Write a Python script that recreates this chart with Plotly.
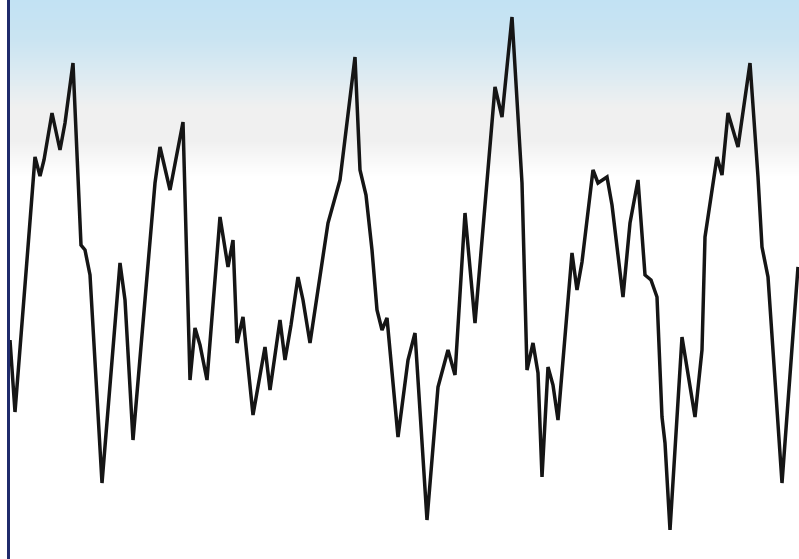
import plotly.graph_objects as go

# Series: time index (x) and value (y)
time_x = [10, 15, 28, 35, 40, 44, 52, 60, 65, 73, 81, 85, 90, 102, 120, 125, 133,
          155, 160, 170, 183, 190, 195, 200, 207, 220, 228, 233, 237, 243, 253,
          265, 270, 280, 285, 291, 298, 303, 310, 328, 340, 355, 360, 366, 372,
          377, 382, 387, 398, 408, 415, 427, 438, 448, 455, 465, 475, 485, 495,
          502, 512, 522, 527, 533, 538, 542, 548, 553, 558, 572, 577, 582, 593,
          598, 607, 612, 623, 630, 638, 645, 651, 657, 662, 665, 670, 682, 687,
          695, 702, 705, 717, 722, 728, 738, 750, 758, 762, 768, 782, 798]
values_y = [219, 147, 312, 402, 383, 399, 446, 409, 436, 496, 314, 309, 284, 76,
            296, 259, 119, 376, 412, 369, 437, 179, 231, 214, 179, 342, 292, 319,
            216, 242, 144, 212, 169, 239, 199, 234, 282, 259, 216, 336, 379, 502,
            389, 364, 309, 249, 229, 241, 122, 199, 226, 39, 172, 209, 184, 346,
            236, 359, 472, 442, 542, 376, 189, 216, 186, 82, 192, 174, 139, 306,
            269, 297, 389, 376, 382, 354, 262, 336, 379, 284, 279, 262, 142, 116,
            29, 222, 189, 142, 209, 322, 402, 384, 446, 412, 496, 382, 312, 282,
            76, 292]

W, H = 799, 559

fig = go.Figure()
fig.add_trace(go.Scatter(
    x=time_x, y=values_y, mode="lines",
    line=dict(color="#151515", width=3.5),
    hoverinfo="skip", showlegend=False,
))

# Background gradient: light blue at top fading to grey then white
stops = [(0, (194, 226, 243)), (40, (202, 228, 242)), (70, (218, 234, 242)),
         (95, (232, 238, 241)), (108, (240, 240, 240)), (140, (240, 240, 240)),
         (160, (248, 248, 248)), (178, (255, 255, 255))]

def col_at(py):
    for (a, ca), (b, cb) in zip(stops[:-1], stops[1:]):
        if a <= py <= b:
            t = (py - a) / (b - a)
            return "rgb(%d,%d,%d)" % tuple(round(ca[i] + (cb[i] - ca[i]) * t) for i in range(3))
    return "rgb(255,255,255)"

shapes = []
step = 2
for py in range(0, 180, step):
    shapes.append(dict(
        type="rect", xref="paper", yref="paper", layer="below",
        x0=0, x1=1, y0=1 - (py + step) / H, y1=1 - py / H,
        fillcolor=col_at(py + step / 2), line=dict(width=0),
    ))

fig.update_layout(
    width=W, height=H,
    margin=dict(l=10, r=0, t=0, b=0),
    paper_bgcolor="white", plot_bgcolor="white",
    shapes=shapes,
    hovermode=False,
    xaxis=dict(range=[10, 799], visible=True, showticklabels=False, ticks="",
               showgrid=False, zeroline=False, showline=False, fixedrange=True),
    yaxis=dict(range=[0, 559], showticklabels=False, ticks="", showgrid=False,
               zeroline=False, showline=True, linecolor="#1f2a6b", linewidth=3,
               fixedrange=True),
)

fig.write_html("out.html", config={"displayModeBar": False, "staticPlot": True},
               post_script="document.body.style.margin='0';document.body.style.overflow='hidden';")
